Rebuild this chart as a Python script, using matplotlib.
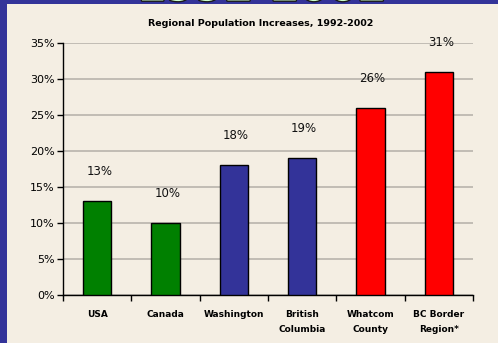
import matplotlib
matplotlib.use("Agg")
import matplotlib.pyplot as plt
import matplotlib.patheffects as pe
from matplotlib.patches import Rectangle
from matplotlib.ticker import FuncFormatter, MultipleLocator

categories = ["USA", "Canada", "Washington", "British\nColumbia", "Whatcom\nCounty", "BC Border\nRegion*"]
increases = [13, 10, 18, 19, 26, 31]
bar_colors = ["#008000", "#008000", "#333399", "#333399", "#FF0000", "#FF0000"]

fig = plt.figure(figsize=(4.98, 3.43), dpi=100)
fig.patch.set_facecolor("#333399")

# cream panel behind the chart
panel = Rectangle((7 / 498, 0), 1 - 7 / 498, 1 - 4 / 343, transform=fig.transFigure,
                  facecolor="#F4EEE3", edgecolor="none", zorder=-5)
fig.patches.append(panel)

# slide heading, mostly above the visible area
fig.text(0.525, 1 - 0.5 / 343, "1992-2002", ha="center", va="baseline",
         fontsize=30, fontweight="bold", color="#CCFFCC", zorder=-4,
         path_effects=[pe.withStroke(linewidth=2, foreground="#1a1a1a")])

ax = fig.add_axes([63 / 498, 1 - 295 / 343, (473 - 63) / 498, (295 - 43) / 343])
ax.set_facecolor("none")
ax.set_zorder(2)

x = list(range(len(categories)))
ax.bar(x, increases, width=0.415, color=bar_colors, edgecolor="black", linewidth=1, zorder=3)
for xi, v in zip(x, increases):
    ax.text(xi + 0.03, v + 3.2, f"{v}%", ha="center", va="bottom", fontsize=8.5, color="#111111")

ax.set_xlim(-0.5, len(categories) - 0.5)
ax.set_ylim(0, 35)
ax.yaxis.set_major_locator(MultipleLocator(5))
ax.yaxis.set_major_formatter(FuncFormatter(lambda v, p: f"{int(v)}%"))
ax.grid(axis="y", color="#B3AFA7", linewidth=1.1, zorder=0)

ax.set_xticks([i - 0.5 for i in range(len(categories) + 1)])
ax.set_xticklabels([])
ax.set_xticks(x, minor=True)
ax.set_xticklabels(categories, minor=True, fontsize=6.5, fontweight="bold", linespacing=1.75)
ax.tick_params(axis="x", which="minor", length=0, pad=11)
ax.tick_params(axis="x", which="major", length=4, width=1, direction="out")
ax.tick_params(axis="y", length=4, width=1, labelsize=8, pad=2)

for s in ["top", "right"]:
    ax.spines[s].set_visible(False)
ax.spines["left"].set_linewidth(1)
ax.spines["bottom"].set_linewidth(1)

fig.text(261 / 498, 1 - 24 / 343, "Regional Population Increases, 1992-2002",
         ha="center", va="center", fontsize=6.8, fontweight="bold")

fig.savefig("out.png", dpi=100, facecolor=fig.get_facecolor())
